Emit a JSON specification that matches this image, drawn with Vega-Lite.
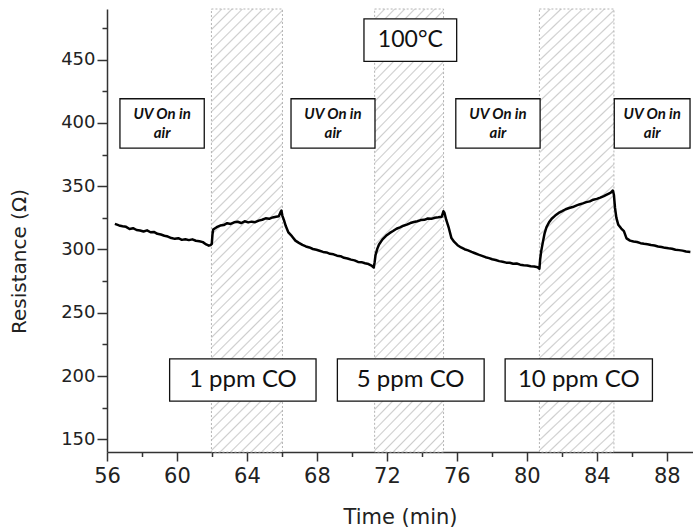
{
  "$schema": "https://vega.github.io/schema/vega-lite/v6.json",
  "width": 586,
  "height": 443,
  "autosize": "none",
  "padding": {"left": 107, "top": 9, "right": 0, "bottom": 80},
  "background": "white",
  "config": {"view": {"stroke": null}},
  "datasets": {
    "series": [
      {"t":56.45,"r":320.2},{"t":56.69,"r":319.0},{"t":56.89,"r":318.4},{"t":57.09,"r":317.9},{"t":57.29,"r":316.2},{"t":57.49,"r":316.8},{"t":57.69,"r":315.4},{"t":57.89,"r":315.0},{"t":58.09,"r":314.2},{"t":58.29,"r":315.1},{"t":58.49,"r":313.6},{"t":58.68,"r":313.9},{"t":58.88,"r":312.4},{"t":59.08,"r":311.8},{"t":59.28,"r":310.9},{"t":59.48,"r":310.2},{"t":59.68,"r":309.0},{"t":59.88,"r":308.4},{"t":60.08,"r":308.9},{"t":60.28,"r":307.6},{"t":60.48,"r":308.1},{"t":60.68,"r":307.4},{"t":60.88,"r":308.0},{"t":61.08,"r":306.9},{"t":61.28,"r":306.5},{"t":61.48,"r":305.8},{"t":61.67,"r":304.0},{"t":61.82,"r":303.0},{"t":61.92,"r":303.5},{"t":61.99,"r":304.5},{"t":62.03,"r":312.0},{"t":62.07,"r":315.8},{"t":62.27,"r":317.6},{"t":62.47,"r":318.9},{"t":62.67,"r":319.3},{"t":62.87,"r":320.8},{"t":63.07,"r":320.2},
      {"t":63.27,"r":321.5},{"t":63.47,"r":321.9},{"t":63.67,"r":320.9},{"t":63.87,"r":322.3},{"t":64.07,"r":321.4},{"t":64.27,"r":322.0},{"t":64.47,"r":321.6},{"t":64.67,"r":322.8},{"t":64.87,"r":323.5},{"t":65.07,"r":324.6},{"t":65.27,"r":324.2},{"t":65.47,"r":325.3},{"t":65.67,"r":325.8},{"t":65.82,"r":326.2},{"t":65.92,"r":329.5},{"t":65.97,"r":330.8},{"t":66.02,"r":327.0},{"t":66.12,"r":323.0},{"t":66.22,"r":318.5},{"t":66.37,"r":313.5},{"t":66.57,"r":310.5},{"t":66.77,"r":307.0},{"t":66.97,"r":305.2},{"t":67.17,"r":303.6},{"t":67.37,"r":302.4},{"t":67.57,"r":301.6},{"t":67.77,"r":300.4},{"t":67.97,"r":299.8},
      {"t":68.15,"r":299.0},{"t":68.35,"r":298.1},{"t":68.55,"r":297.7},{"t":68.75,"r":296.6},{"t":68.95,"r":296.2},{"t":69.15,"r":295.1},{"t":69.35,"r":294.7},{"t":69.55,"r":293.4},{"t":69.75,"r":292.9},{"t":69.95,"r":292.0},{"t":70.15,"r":291.4},{"t":70.35,"r":290.2},{"t":70.55,"r":290.0},{"t":70.75,"r":289.1},{"t":70.95,"r":288.5},{"t":71.15,"r":287.0},{"t":71.25,"r":285.8},{"t":71.3,"r":290.0},{"t":71.35,"r":295.5},{"t":71.45,"r":300.5},{"t":71.55,"r":304.0},{"t":71.75,"r":308.0},{"t":71.95,"r":310.8},{"t":72.15,"r":312.9},{"t":72.35,"r":314.6},{"t":72.55,"r":316.4},{"t":72.75,"r":317.5},{"t":72.95,"r":318.8},
      {"t":73.14,"r":319.6},{"t":73.34,"r":320.9},{"t":73.54,"r":321.7},{"t":73.74,"r":322.3},{"t":73.94,"r":323.2},{"t":74.14,"r":323.4},{"t":74.34,"r":324.5},{"t":74.54,"r":324.2},{"t":74.74,"r":325.1},{"t":74.94,"r":325.4},{"t":75.14,"r":325.9},{"t":75.23,"r":330.2},{"t":75.29,"r":329.0},{"t":75.39,"r":323.5},{"t":75.54,"r":317.0},{"t":75.69,"r":309.0},{"t":75.84,"r":306.2},{"t":76.04,"r":303.4},{"t":76.24,"r":301.6},{"t":76.44,"r":300.2},{"t":76.64,"r":299.3},{"t":76.84,"r":298.1},{"t":77.04,"r":297.0},{"t":77.24,"r":295.9},{"t":77.44,"r":295.0},{"t":77.64,"r":293.9},{"t":77.84,"r":293.2},
      {"t":78.02,"r":292.3},{"t":78.22,"r":291.7},{"t":78.42,"r":290.8},{"t":78.62,"r":290.3},{"t":78.82,"r":289.6},{"t":79.02,"r":289.5},{"t":79.22,"r":288.7},{"t":79.42,"r":288.9},{"t":79.62,"r":288.0},{"t":79.82,"r":287.6},{"t":80.02,"r":287.4},{"t":80.22,"r":286.7},{"t":80.42,"r":286.6},{"t":80.62,"r":286.0},{"t":80.72,"r":284.8},{"t":80.76,"r":292.0},{"t":80.82,"r":298.5},{"t":80.92,"r":306.0},{"t":81.02,"r":313.0},{"t":81.12,"r":317.5},{"t":81.27,"r":321.5},{"t":81.42,"r":324.3},{"t":81.62,"r":326.8},{"t":81.82,"r":328.9},{"t":82.02,"r":330.3},{"t":82.22,"r":331.8},{"t":82.42,"r":332.8},{"t":82.62,"r":333.5},{"t":82.82,"r":334.7},
      {"t":83.0,"r":335.6},{"t":83.2,"r":336.4},{"t":83.4,"r":337.4},{"t":83.6,"r":338.0},{"t":83.8,"r":339.3},{"t":84.0,"r":340.0},{"t":84.2,"r":341.0},{"t":84.4,"r":342.2},{"t":84.6,"r":343.6},{"t":84.8,"r":345.0},{"t":84.92,"r":346.6},{"t":84.98,"r":343.0},{"t":85.04,"r":333.0},{"t":85.12,"r":325.0},{"t":85.23,"r":319.5},{"t":85.4,"r":316.5},{"t":85.55,"r":314.5},{"t":85.7,"r":308.8},{"t":85.9,"r":307.0},{"t":86.1,"r":306.3},{"t":86.3,"r":305.9},{"t":86.5,"r":305.0},{"t":86.7,"r":304.5},{"t":86.9,"r":304.1},{"t":87.1,"r":303.5},{"t":87.3,"r":303.2},{"t":87.5,"r":302.4},{"t":87.7,"r":302.0},{"t":87.9,"r":301.3},{"t":88.1,"r":300.9},{"t":88.3,"r":300.6},{"t":88.5,"r":299.8},{"t":88.7,"r":299.5},{"t":88.9,"r":299.1},{"t":89.1,"r":298.4},{"t":89.35,"r":298.0}
    ],
    "gas": [
      {"t0": 61.97, "t1": 66.03},
      {"t0": 71.3, "t1": 75.24},
      {"t0": 80.72, "t1": 84.98}
    ],
    "boxes": [
      {"kind": "uv", "label": "UV On in\nair", "t0": 56.74, "t1": 61.56, "r0": 380.1, "r1": 419.1, "tm": 59.15, "rm": 399.6},
      {"kind": "uv", "label": "UV On in\nair", "t0": 66.52, "t1": 71.32, "r0": 380.1, "r1": 419.1, "tm": 68.92, "rm": 399.6},
      {"kind": "uv", "label": "UV On in\nair", "t0": 75.94, "t1": 80.76, "r0": 380.1, "r1": 419.1, "tm": 78.35, "rm": 399.6},
      {"kind": "uv", "label": "UV On in\nair", "t0": 85.0, "t1": 89.33, "r0": 380.1, "r1": 419.1, "tm": 87.17, "rm": 399.6},
      {"kind": "temp", "label": "100°C", "t0": 70.69, "t1": 75.99, "r0": 448.6, "r1": 482.2, "tm": 73.34, "rm": 465.4},
      {"kind": "co", "label": "1 ppm CO", "t0": 59.58, "t1": 67.95, "r0": 180.2, "r1": 213.5, "tm": 63.77, "rm": 196.8},
      {"kind": "co", "label": "5 ppm CO", "t0": 69.17, "t1": 77.56, "r0": 180.2, "r1": 213.5, "tm": 73.36, "rm": 196.8},
      {"kind": "co", "label": "10 ppm CO", "t0": 78.76, "t1": 87.18, "r0": 180.2, "r1": 213.5, "tm": 82.97, "rm": 196.8}
    ]
  },
  "encoding": {
    "x": {
      "type": "quantitative",
      "scale": {"domain": [56, 89.5], "nice": false, "zero": false},
      "axis": {
        "title": "Time (min)",
        "values": [56,58,60,62,64,66,68,70,72,74,76,78,80,82,84,86,88],
        "labelExpr": "datum.value % 4 === 0 ? datum.label : ''",
        "tickSize": {"condition": {"test": "datum.value % 4 === 0", "value": 9}, "value": 4.5},
        "grid": false,
        "labelFlush": false,
        "labelOverlap": false,
        "labelFont": "DejaVu Sans",
        "labelFontSize": 21,
        "labelColor": "#222222",
        "labelPadding": 4,
        "domainColor": "#333333",
        "domainWidth": 1.5,
        "tickColor": "#333333",
        "tickWidth": 1.5,
        "titleFont": "DejaVu Sans",
        "titleFontSize": 21,
        "titleFontWeight": "normal",
        "titleColor": "#222222",
        "titleBaseline": "alphabetic",
        "titleY": 71
      }
    },
    "y": {
      "type": "quantitative",
      "scale": {"domain": [140, 490], "nice": false, "zero": false},
      "axis": {
        "title": "Resistance (Ω)",
        "values": [150,175,200,225,250,275,300,325,350,375,400,425,450,475],
        "labelExpr": "datum.value % 50 === 0 ? datum.label : ''",
        "tickSize": {"condition": {"test": "datum.value % 50 === 0", "value": 10}, "value": 5},
        "grid": false,
        "labelOverlap": false,
        "labelFlush": false,
        "labelFont": "DejaVu Sans",
        "labelFontSize": 18,
        "labelColor": "#222222",
        "labelPadding": 2,
        "domainColor": "#333333",
        "domainWidth": 1.5,
        "tickColor": "#333333",
        "tickWidth": 1.5,
        "titleFont": "DejaVu Sans",
        "titleFontSize": 20,
        "titleFontWeight": "normal",
        "titleColor": "#222222",
        "titleBaseline": "alphabetic",
        "titleAlign": "center",
        "titleAngle": -90,
        "titleX": -82,
        "titleY": 252
      }
    }
  },
  "layer": [
    {
      "data": {"name": "gas"},
      "mark": {
        "type": "rect",
        "stroke": "#b4b4b4",
        "strokeWidth": 1,
        "strokeDash": [2, 2],
        "fill": {
          "gradient": "linear",
          "x1": 0, "y1": 0, "x2": 0.18, "y2": 1.13,
          "stops": [
            {"offset":0,"color":"#cdcdcd"},{"offset":0.003,"color":"#ffffff"},{"offset":0.017,"color":"#ffffff"},
            {"offset":0.02,"color":"#cdcdcd"},{"offset":0.023,"color":"#ffffff"},{"offset":0.037,"color":"#ffffff"},
            {"offset":0.04,"color":"#cdcdcd"},{"offset":0.043,"color":"#ffffff"},{"offset":0.057,"color":"#ffffff"},
            {"offset":0.06,"color":"#cdcdcd"},{"offset":0.063,"color":"#ffffff"},{"offset":0.077,"color":"#ffffff"},
            {"offset":0.08,"color":"#cdcdcd"},{"offset":0.083,"color":"#ffffff"},{"offset":0.097,"color":"#ffffff"},
            {"offset":0.1,"color":"#cdcdcd"},{"offset":0.103,"color":"#ffffff"},{"offset":0.117,"color":"#ffffff"},
            {"offset":0.12,"color":"#cdcdcd"},{"offset":0.123,"color":"#ffffff"},{"offset":0.137,"color":"#ffffff"},
            {"offset":0.14,"color":"#cdcdcd"},{"offset":0.143,"color":"#ffffff"},{"offset":0.157,"color":"#ffffff"},
            {"offset":0.16,"color":"#cdcdcd"},{"offset":0.163,"color":"#ffffff"},{"offset":0.177,"color":"#ffffff"},
            {"offset":0.18,"color":"#cdcdcd"},{"offset":0.183,"color":"#ffffff"},{"offset":0.197,"color":"#ffffff"},
            {"offset":0.2,"color":"#cdcdcd"},{"offset":0.203,"color":"#ffffff"},{"offset":0.217,"color":"#ffffff"},
            {"offset":0.22,"color":"#cdcdcd"},{"offset":0.223,"color":"#ffffff"},{"offset":0.237,"color":"#ffffff"},
            {"offset":0.24,"color":"#cdcdcd"},{"offset":0.243,"color":"#ffffff"},{"offset":0.257,"color":"#ffffff"},
            {"offset":0.26,"color":"#cdcdcd"},{"offset":0.263,"color":"#ffffff"},{"offset":0.277,"color":"#ffffff"},
            {"offset":0.28,"color":"#cdcdcd"},{"offset":0.283,"color":"#ffffff"},{"offset":0.297,"color":"#ffffff"},
            {"offset":0.3,"color":"#cdcdcd"},{"offset":0.303,"color":"#ffffff"},{"offset":0.317,"color":"#ffffff"},
            {"offset":0.32,"color":"#cdcdcd"},{"offset":0.323,"color":"#ffffff"},{"offset":0.337,"color":"#ffffff"},
            {"offset":0.34,"color":"#cdcdcd"},{"offset":0.343,"color":"#ffffff"},{"offset":0.357,"color":"#ffffff"},
            {"offset":0.36,"color":"#cdcdcd"},{"offset":0.363,"color":"#ffffff"},{"offset":0.377,"color":"#ffffff"},
            {"offset":0.38,"color":"#cdcdcd"},{"offset":0.383,"color":"#ffffff"},{"offset":0.397,"color":"#ffffff"},
            {"offset":0.4,"color":"#cdcdcd"},{"offset":0.403,"color":"#ffffff"},{"offset":0.417,"color":"#ffffff"},
            {"offset":0.42,"color":"#cdcdcd"},{"offset":0.423,"color":"#ffffff"},{"offset":0.437,"color":"#ffffff"},
            {"offset":0.44,"color":"#cdcdcd"},{"offset":0.443,"color":"#ffffff"},{"offset":0.457,"color":"#ffffff"},
            {"offset":0.46,"color":"#cdcdcd"},{"offset":0.463,"color":"#ffffff"},{"offset":0.477,"color":"#ffffff"},
            {"offset":0.48,"color":"#cdcdcd"},{"offset":0.483,"color":"#ffffff"},{"offset":0.497,"color":"#ffffff"},
            {"offset":0.5,"color":"#cdcdcd"},{"offset":0.503,"color":"#ffffff"},{"offset":0.517,"color":"#ffffff"},
            {"offset":0.52,"color":"#cdcdcd"},{"offset":0.523,"color":"#ffffff"},{"offset":0.537,"color":"#ffffff"},
            {"offset":0.54,"color":"#cdcdcd"},{"offset":0.543,"color":"#ffffff"},{"offset":0.557,"color":"#ffffff"},
            {"offset":0.56,"color":"#cdcdcd"},{"offset":0.563,"color":"#ffffff"},{"offset":0.577,"color":"#ffffff"},
            {"offset":0.58,"color":"#cdcdcd"},{"offset":0.583,"color":"#ffffff"},{"offset":0.597,"color":"#ffffff"},
            {"offset":0.6,"color":"#cdcdcd"},{"offset":0.603,"color":"#ffffff"},{"offset":0.617,"color":"#ffffff"},
            {"offset":0.62,"color":"#cdcdcd"},{"offset":0.623,"color":"#ffffff"},{"offset":0.637,"color":"#ffffff"},
            {"offset":0.64,"color":"#cdcdcd"},{"offset":0.643,"color":"#ffffff"},{"offset":0.657,"color":"#ffffff"},
            {"offset":0.66,"color":"#cdcdcd"},{"offset":0.663,"color":"#ffffff"},{"offset":0.677,"color":"#ffffff"},
            {"offset":0.68,"color":"#cdcdcd"},{"offset":0.683,"color":"#ffffff"},{"offset":0.697,"color":"#ffffff"},
            {"offset":0.7,"color":"#cdcdcd"},{"offset":0.703,"color":"#ffffff"},{"offset":0.717,"color":"#ffffff"},
            {"offset":0.72,"color":"#cdcdcd"},{"offset":0.723,"color":"#ffffff"},{"offset":0.737,"color":"#ffffff"},
            {"offset":0.74,"color":"#cdcdcd"},{"offset":0.743,"color":"#ffffff"},{"offset":0.757,"color":"#ffffff"},
            {"offset":0.76,"color":"#cdcdcd"},{"offset":0.763,"color":"#ffffff"},{"offset":0.777,"color":"#ffffff"},
            {"offset":0.78,"color":"#cdcdcd"},{"offset":0.783,"color":"#ffffff"},{"offset":0.797,"color":"#ffffff"},
            {"offset":0.8,"color":"#cdcdcd"},{"offset":0.803,"color":"#ffffff"},{"offset":0.817,"color":"#ffffff"},
            {"offset":0.82,"color":"#cdcdcd"},{"offset":0.823,"color":"#ffffff"},{"offset":0.837,"color":"#ffffff"},
            {"offset":0.84,"color":"#cdcdcd"},{"offset":0.843,"color":"#ffffff"},{"offset":0.857,"color":"#ffffff"},
            {"offset":0.86,"color":"#cdcdcd"},{"offset":0.863,"color":"#ffffff"},{"offset":0.877,"color":"#ffffff"},
            {"offset":0.88,"color":"#cdcdcd"},{"offset":0.883,"color":"#ffffff"},{"offset":0.897,"color":"#ffffff"},
            {"offset":0.9,"color":"#cdcdcd"},{"offset":0.903,"color":"#ffffff"},{"offset":0.917,"color":"#ffffff"},
            {"offset":0.92,"color":"#cdcdcd"},{"offset":0.923,"color":"#ffffff"},{"offset":0.937,"color":"#ffffff"},
            {"offset":0.94,"color":"#cdcdcd"},{"offset":0.943,"color":"#ffffff"},{"offset":0.957,"color":"#ffffff"},
            {"offset":0.96,"color":"#cdcdcd"},{"offset":0.963,"color":"#ffffff"},{"offset":0.977,"color":"#ffffff"},
            {"offset":0.98,"color":"#cdcdcd"},{"offset":0.983,"color":"#ffffff"},{"offset":0.997,"color":"#ffffff"},
            {"offset":1,"color":"#cdcdcd"}
          ]
        }
      },
      "encoding": {
        "x": {"field": "t0"},
        "x2": {"field": "t1"}
      }
    },
    {
      "mark": {"type": "rule", "color": "#333333", "strokeWidth": 1.5},
      "encoding": {"y": {"datum": 490}}
    },
    {
      "data": {"name": "series"},
      "mark": {"type": "line", "color": "#000000", "strokeWidth": 2.5, "strokeJoin": "round"},
      "encoding": {
        "x": {"field": "t"},
        "y": {"field": "r"}
      }
    },
    {
      "data": {"name": "boxes"},
      "mark": {"type": "rect", "fill": "#ffffff", "stroke": "#111111", "strokeWidth": 1.3},
      "encoding": {
        "x": {"field": "t0"},
        "x2": {"field": "t1"},
        "y": {"field": "r0"},
        "y2": {"field": "r1"}
      }
    },
    {
      "data": {"name": "boxes"},
      "transform": [{"filter": "datum.kind === 'uv'"}],
      "mark": {"type": "text", "font": "Lato", "fontSize": 15, "fontWeight": "bold", "fontStyle": "italic", "color": "#111111", "lineBreak": "\n", "lineHeight": 19.5, "align": "center", "baseline": "middle", "dy": -9.5},
      "encoding": {
        "x": {"field": "tm"},
        "y": {"field": "rm"},
        "text": {"field": "label"}
      }
    },
    {
      "data": {"name": "boxes"},
      "transform": [{"filter": "datum.kind === 'temp'"}],
      "mark": {"type": "text", "font": "Lato", "fontSize": 23, "color": "#111111", "align": "center", "baseline": "middle"},
      "encoding": {
        "x": {"field": "tm"},
        "y": {"field": "rm"},
        "text": {"field": "label"}
      }
    },
    {
      "data": {"name": "boxes"},
      "transform": [{"filter": "datum.kind === 'co'"}],
      "mark": {"type": "text", "font": "Lato", "fontSize": 24, "color": "#111111", "align": "center", "baseline": "middle"},
      "encoding": {
        "x": {"field": "tm"},
        "y": {"field": "rm"},
        "text": {"field": "label"}
      }
    }
  ]
}
